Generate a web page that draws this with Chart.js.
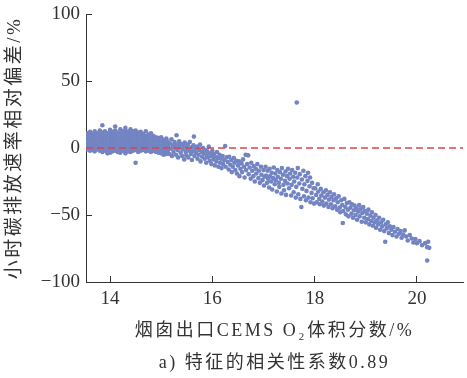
<!DOCTYPE html>
<html>
<head>
<meta charset="utf-8">
<script src="https://cdn.jsdelivr.net/npm/chart.js@4.4.1/dist/chart.umd.min.js"></script>
<style>
  html, body { margin: 0; padding: 0; background: #fff; }
  canvas { display: block; }
</style>
</head>
<body>
<canvas id="o2Chart" width="467" height="378"></canvas>
<script>
// 坐标轴
const xTicks = [14, 16, 18, 20];
const yTicks = [-100, -50, 0, 50, 100];
const xMin = 13.53, xMax = 20.9;

// 密集区 (13.5 ~ 15.1)，按列读取
const coreO2 = [13.56, 13.61, 13.66, 13.7, 13.75, 13.8, 13.85, 13.9, 13.95, 14.0, 14.05, 14.1, 14.15, 14.2, 14.25, 14.3,
    14.35, 14.4, 14.45, 14.5, 14.55, 14.6, 14.65, 14.7, 14.75, 14.8, 14.85, 14.9, 14.95, 15.0, 15.05, 15.1];
const coreDev = [
    [11, 8, 5, 2, -1], [12, 9.5, 6.5, 3.5, 0.5, -2], [10.5, 7.5, 4.5, 1.5, -1.5], [12.5, 9, 6, 3, 0, -2.5],
    [11, 8, 5, 2, -1], [13, 10, 7, 4, 1, -2], [17, 11.5, 8.5, 5.5, 2.5, -0.5, -3], [12.5, 9.5, 6.5, 3.5, 0.5, -2],
    [11, 8, 5, 2, -1, -4], [13.5, 10.5, 7.5, 4.5, 1.5, -1.5, -3.5], [12, 9, 6, 3, 0, -2.5], [16, 13, 10, 7, 4, 1, -2],
    [11.5, 8.5, 5.5, 2.5, -0.5, -3], [14, 11, 8, 5, 2, -1, -3.5], [12.5, 9.5, 6.5, 3.5, 0.5, -2], [15, 13, 10.5, 7.5, 4.5, 1.5, -1.5, -4],
    [12, 9, 6, 3, 0, -2.5], [14, 11, 8, 5, 2, -1, -3], [12.5, 9.5, 6.5, 3.5, 0.5, -2], [13, 10, 7, 4, 1, -1.5, -11],
    [11.5, 8.5, 5.5, 2.5, -0.5, -3], [12, 9, 6, 3, 0, -2], [10.5, 7.5, 4.5, 1.5, -1.5], [12.5, 9, 6, 3, 0, -2.5],
    [10, 7, 4, 1, -2], [11, 8, 5, 2, -1, -3], [9, 6, 3, 0, -2], [8, 5, 2, -1, -3],
    [7.5, 4.5, 1.5, -1.5, -3.5], [8, 5, 2, -1, -4], [6, 3, 0, -2.5, -5], [7, 4, 1, -2, -4.5]
];

// 过渡区 (15.1 ~ 16.3)，[O2, 偏差]
const midPoints = [
    [15.12, 5], [15.13, -2], [15.14, 1.5], [15.16, -4.5], [15.17, 3.5], [15.19, -0.5], [15.2, 6.5], [15.21, -6],
    [15.23, 2], [15.24, -3], [15.26, 4.5], [15.27, 0], [15.29, -5], [15.3, 9.5], [15.31, 2.5], [15.32, -1.5],
    [15.33, -7], [15.35, 5], [15.36, 0.5], [15.38, -3.5], [15.39, 3], [15.41, -6], [15.42, -1], [15.44, 1.5],
    [15.45, -8.5], [15.46, 4], [15.48, -3], [15.49, -5.5], [15.5, 0], [15.52, 2.5], [15.53, -7], [15.55, -2],
    [15.56, 4.5], [15.58, -4.5], [15.59, 0.5], [15.6, -9], [15.62, -2.5], [15.63, 2], [15.64, 8.5], [15.65, -6],
    [15.67, -0.5], [15.68, -3.5], [15.7, 1], [15.71, -8], [15.73, -5], [15.74, -1.5], [15.76, 2.5], [15.77, -10],
    [15.79, -3], [15.8, -6.5], [15.82, 0], [15.83, -4], [15.85, -8], [15.86, -1.5], [15.88, -11], [15.89, -5.5],
    [15.9, -2.5], [15.92, -7], [15.93, 1], [15.95, -9.5], [15.96, -4], [15.98, -12], [15.99, -6], [16.0, -2],
    [16.02, -8.5], [16.03, -4.5], [16.05, -13], [16.06, -6.5], [16.08, -10], [16.09, -3], [16.11, -7.5], [16.12, -14],
    [16.14, -5], [16.15, -11], [16.17, -8], [16.18, -15], [16.2, -6], [16.21, -12], [16.23, -9], [16.25, 1.5],
    [16.26, -14], [16.28, -7]
];

// 下降带 (16.3 ~ 18.0)
const slopePoints = [
    [16.3, -10.5], [16.32, -16], [16.33, -6.5], [16.35, -12.5], [16.37, -9], [16.38, -18], [16.4, -14], [16.42, -7.5],
    [16.43, -11], [16.45, -16.5], [16.47, -9.5], [16.48, -19], [16.5, -13], [16.52, -10], [16.53, -21], [16.55, -15.5],
    [16.57, -11.5], [16.58, -18], [16.6, -8.5], [16.62, -14], [16.63, -22], [16.65, -5], [16.66, -16.5], [16.68, -12],
    [16.7, -5.5], [16.71, -19.5], [16.73, -14.5], [16.75, -23], [16.76, -11], [16.78, -17], [16.8, -21], [16.81, -13.5],
    [16.83, -25], [16.85, -15.5], [16.86, -19], [16.88, -12], [16.9, -22.5], [16.91, -17], [16.93, -26], [16.95, -14],
    [16.96, -20], [16.98, -24], [17.0, -16.5], [17.01, -28], [17.02, -21.5],
    [17.04, -14], [17.05, -20.5], [17.07, -26], [17.08, -17], [17.09, -23], [17.11, -29.5], [17.12, -15.5], [17.13, -21],
    [17.15, -25], [17.16, -18.5], [17.17, -31], [17.19, -22.5], [17.2, -14.5], [17.22, -27], [17.23, -19], [17.24, -24],
    [17.26, -32.5], [17.27, -16.5], [17.28, -21.5], [17.3, -26], [17.31, -29], [17.32, -18], [17.34, -23], [17.35, -34],
    [17.36, -15], [17.38, -20], [17.39, -27.5], [17.4, -31.5], [17.42, -24.5], [17.43, -17.5], [17.44, -35], [17.46, -21],
    [17.47, -26.5], [17.48, -15.5], [17.5, -30], [17.51, -23], [17.52, -19], [17.54, -35.5], [17.55, -27.5], [17.56, -16.5],
    [17.58, -21.5], [17.59, -33], [17.6, -25], [17.62, -18.5], [17.63, -37], [17.64, -29], [17.66, -22], [17.67, -15],
    [17.68, -34.5], [17.7, -26.5], [17.71, -19.5], [17.72, -38], [17.74, -44], [17.75, -23.5], [17.76, -30.5], [17.78, -17],
    [17.79, -36], [17.8, -27], [17.82, -21], [17.83, -39], [17.84, -32], [17.86, -24.5], [17.87, -18.5], [17.88, -37],
    [17.9, -28.5], [17.91, -22], [17.92, -40.5], [17.94, -33.5], [17.95, -26], [17.96, -37.5], [17.98, -30], [17.99, -41.5]
];

// 尾部 (18.0 ~ 20.3)
const tailPoints = [
    [18.01, -30], [18.03, -35], [18.04, -40.5], [18.06, -27], [18.07, -32.5], [18.09, -38], [18.1, -42], [18.12, -30.5],
    [18.13, -35.5], [18.15, -40], [18.17, -33], [18.18, -43], [18.2, -37], [18.22, -31.5], [18.23, -41.5], [18.25, -35],
    [18.27, -44], [18.28, -38.5], [18.3, -33], [18.32, -42], [18.33, -36.5], [18.35, -45], [18.37, -39], [18.38, -34.5],
    [18.4, -43.5], [18.42, -37.5], [18.44, -46], [18.45, -40.5], [18.47, -36], [18.49, -44.5], [18.5, -48], [18.52, -39],
    [18.54, -42.5], [18.55, -56], [18.56, -47], [18.58, -38], [18.6, -44], [18.61, -49.5], [18.63, -41], [18.65, -46],
    [18.66, -51], [18.68, -40.5], [18.7, -44.5], [18.72, -49], [18.73, -42], [18.75, -52], [18.77, -46.5], [18.78, -43],
    [18.8, -50], [18.82, -45], [18.83, -53.5], [18.85, -47.5], [18.87, -42.5], [18.88, -51], [18.9, -45.5], [18.92, -55],
    [18.93, -48.5], [18.95, -44], [18.97, -52], [18.98, -47], [19.0, -55.5],
    [19.02, -49], [19.04, -53], [19.05, -46], [19.07, -57], [19.09, -50.5], [19.1, -54.5], [19.12, -48], [19.14, -58],
    [19.15, -52], [19.17, -55.5], [19.19, -50], [19.2, -59.5], [19.22, -54], [19.24, -57], [19.26, -52], [19.28, -61],
    [19.3, -55.5], [19.32, -58.5], [19.34, -53.5], [19.36, -62], [19.38, -70], [19.39, -57], [19.41, -60], [19.43, -55.5],
    [19.45, -63.5], [19.47, -58.5], [19.5, -61], [19.52, -65], [19.54, -59], [19.57, -62.5], [19.6, -66], [19.62, -60.5],
    [19.65, -64], [19.68, -62], [19.7, -67], [19.73, -64.5], [19.76, -61.5], [19.79, -66], [19.82, -69], [19.86, -65],
    [19.9, -67.5], [19.93, -70.5], [19.97, -68], [20.0, -71], [20.05, -69.5], [20.1, -72.5], [20.16, -71], [20.2, -74],
    [20.22, -70], [20.24, -74.5], [20.2, -84]
];

// 离群点
const outlierPoints = [[17.65, 34]];

// 零偏差参考线
const refDev = [0, 0];

function fromColumns(cols, vals) {
    const pts = [];
    cols.forEach((x, i) => {
        vals[i].forEach(y => pts.push({x: x, y: y}));
    });
    return pts;
}

function fromPairs(pairs) {
    return pairs.map(p => ({x: p[0], y: p[1]}));
}

const scatterData = []
    .concat(fromColumns(coreO2, coreDev))
    .concat(fromPairs(midPoints))
    .concat(fromPairs(slopePoints))
    .concat(fromPairs(tailPoints))
    .concat(fromPairs(outlierPoints));

const axisColor = '#333';
const serifFamily = "'Liberation Serif', 'Noto Sans CJK SC', serif";
const tickFont = {family: serifFamily, size: 19};

// 标题字间距 (Chart.js 字体选项里没有 letterSpacing)
function spaceTitle(scale, spacing) {
    if (scale._spaced) return;
    scale._spaced = true;
    const orig = scale.drawTitle;
    scale.drawTitle = function () {
        this.ctx.save();
        this.ctx.letterSpacing = spacing;
        orig.call(this);
        this.ctx.restore();
    };
}

const ctx = document.getElementById('o2Chart').getContext('2d');
new Chart(ctx, {
    type: 'scatter',
    data: {
        datasets: [{
            type: 'line',
            data: [{x: xMin, y: refDev[0]}, {x: xMax, y: refDev[1]}],
            borderColor: '#e0424e',
            borderWidth: 1.5,
            borderDash: [7, 4],
            pointRadius: 0,
            order: 0
        }, {
            data: scatterData,
            backgroundColor: '#7384c2',
            borderWidth: 0,
            pointRadius: 2.3,
            order: 1
        }]
    },
    options: {
        responsive: false,
        animation: false,
        layout: {padding: {top: 14, right: 1, bottom: 0, left: 0}},
        plugins: {
            legend: {display: false},
            tooltip: {enabled: false}
        },
        scales: {
            x: {
                type: 'linear',
                min: xMin,
                max: xMax,
                afterBuildTicks: function (scale) {
                    scale.ticks = xTicks.map(v => ({value: v}));
                },
                afterFit: function (scale) {
                    scale.height = 96;
                    scale.paddingLeft = 0;
                    scale.paddingRight = 0;
                    spaceTitle(scale, '2.5px');
                },
                grid: {drawOnChartArea: false, drawTicks: true, tickLength: -6, tickColor: axisColor},
                border: {display: true, color: axisColor, width: 1},
                ticks: {font: tickFont, color: axisColor, padding: 12, maxRotation: 0},
                title: {
                    display: true,
                    text: ['烟囱出口CEMS O₂体积分数/%', 'a) 特征的相关性系数0.89'],
                    color: axisColor,
                    font: {family: serifFamily, size: 18, lineHeight: '32px'},
                    padding: {top: 0, bottom: -1}
                }
            },
            y: {
                min: -100,
                max: 100,
                afterBuildTicks: function (scale) {
                    scale.ticks = yTicks.map(v => ({value: v}));
                },
                afterFit: function (scale) {
                    scale.width = 86;
                    scale.paddingTop = 0;
                    scale.paddingBottom = 0;
                    spaceTitle(scale, '2.5px');
                },
                grid: {drawOnChartArea: false, drawTicks: true, tickLength: -6, tickColor: axisColor},
                border: {display: true, color: axisColor, width: 1},
                ticks: {
                    font: tickFont,
                    color: axisColor,
                    padding: 12,
                    callback: v => String(v).replace('-', '\u2212')
                },
                title: {
                    display: true,
                    text: '小时碳排放速率相对偏差/%',
                    color: axisColor,
                    font: {family: serifFamily, size: 19},
                    padding: {top: 4, bottom: 0}
                }
            }
        }
    }
});
</script>
</body>
</html>
